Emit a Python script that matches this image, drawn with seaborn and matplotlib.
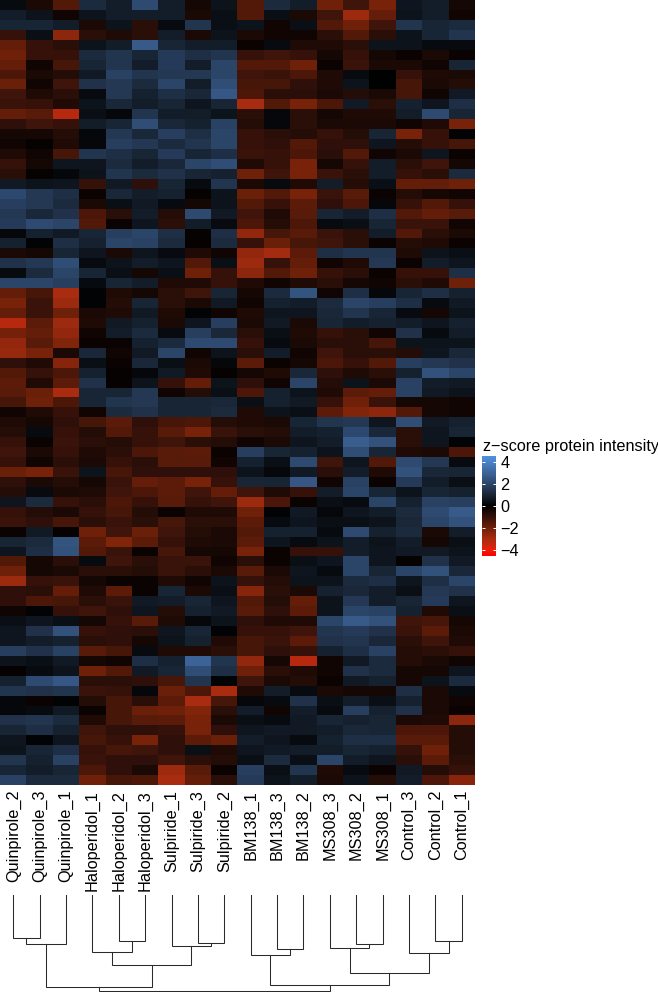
import matplotlib
matplotlib.use('Agg')
import matplotlib.pyplot as plt
from matplotlib.colors import LinearSegmentedColormap
import pandas as pd
import seaborn as sns

samples = ['Quinpirole_2', 'Quinpirole_3', 'Quinpirole_1', 'Haloperidol_1', 'Haloperidol_2', 'Haloperidol_3',
           'Sulpiride_1', 'Sulpiride_3', 'Sulpiride_2', 'BM138_1', 'BM138_3', 'BM138_2',
           'MS308_3', 'MS308_2', 'MS308_1', 'Control_3', 'Control_2', 'Control_1']

# z-scores, one line per band of proteins, top to bottom
zscores = [
    [.3, -.5, -1.5, 1.2, .8, 2.2, .8, -.4, .5, -1.5, 1.2, .8, -2, -1.2, -2.2, .6, .8, -.4],
    [.8, .5, -.3, .5, .8, .8, .8, -.5, .4, -1.5, .4, -.5, -1.2, -2.8, -1.8, .5, .8, -.3],
    [1, 1, .8, -.5, .5, -.8, .3, 1.5, .4, .5, -.3, .4, -1.5, -2, -1.2, 1.5, 1, 1.2],
    [-1, .4, -2.5, -.8, -.6, -.8, .8, -.5, .5, -.5, -.3, -.3, -.8, -1.5, -.8, .5, 1, 1.5],
    [-1.8, -1, -.8, .5, .8, 2.7, 1, .8, .8, -.2, .3, -.6, -.6, -.8, .5, .5, .3, .3],
    [-2, -1, -1, 1.2, 1.5, 1, 1.7, 1.3, 1.5, -1, -1.2, -1, -.4, -1, -.4, -.2, -.5, -.2],
    [-1.8, -.3, -1.3, 1, 1.5, .8, 1.7, .8, 2, -1.5, -1.5, -2, -.2, -1.1, -.5, -.5, -.3, 1],
    [-1.4, -.5, -.7, .7, 1.9, 1.5, 1.6, 1.6, 2, -1.2, -1.1, -1.4, -.6, .3, 0, -1, -.6, -.5],
    [-1.9, -.3, -1.2, 1.4, 1.6, 1.2, 2, .8, 2.3, -1.3, -1.3, -.9, -.6, .5, 0, -1.3, -.5, -.7],
    [-1.2, -.6, -.8, .3, 1.6, .9, 1.3, 1.1, 2.6, -1.4, -.8, -.8, -.5, -.7, -.5, -1.3, -.3, .7],
    [-1.1, -1, -.6, .5, 1.1, .8, 1, .6, 1, -3, -1.5, -2.2, -1.4, .7, -.8, .9, .6, 1.3],
    [-1.8, -1.6, -3.2, .4, .2, 1.5, .8, .8, .5, -.8, .2, -.8, -.4, -.6, -.6, .8, 2.2, 1],
    [-.9, -1.2, -1, .8, 1, 2.3, 1.1, .9, 1.9, -.7, .2, -.8, -.5, -.5, -.5, -.3, -.6, -2.2],
    [-.4, -.4, -.7, .2, 1.6, 1.1, 1.8, 1.3, 2, -1, -.8, -.7, -1, -.7, 1, -2.2, -1, .1],
    [-.3, -.1, -.6, .2, 1.8, 1.6, 1.2, 1.5, 2, -1, -.9, -1.5, -.9, -.9, .6, -.7, -1, -1.3],
    [-.6, -.3, -1.3, 1.5, 1.3, 1, 1.7, 1, 1.3, -1.1, -1, -1.4, -.8, -1.5, -.3, -.5, .6, -.2],
    [-1, -.4, .6, .6, 1.2, .8, 1.1, 2, 2.3, -.6, -1, -2.2, -.4, -1, .8, -.8, -1.2, -.4],
    [-.8, -.1, .2, .5, 1.5, 1.2, 1.4, 1, .9, -2, -1.2, -2.2, -1.1, -.8, .8, -1, -.8, 1.2],
    [.7, .5, .6, -1, .7, -.9, 1, .3, 1.5, -.5, .3, -.6, .8, -.7, .4, -1.8, -1.8, -2],
    [2.1, 1.6, 1.3, -.2, 1.1, .8, .9, -.1, .5, -1.9, -1.5, -2.2, -1.1, -1.6, -.2, -.7, -.4, -.3],
    [1.8, 1.6, 1.2, -.5, .4, .7, .3, -.4, .5, -1.5, -1, -1.7, -.9, -1.4, .2, -1, -1.5, -1],
    [1.6, 1.1, 1.4, -1.4, -.8, .8, -.7, 2.2, .7, -1.2, -.6, -1.6, 1, .8, 1.3, -1.5, -1.8, -1.6],
    [1.7, 2.2, 2, -1.5, -.2, .6, -.8, .8, .3, -1.4, -.7, -1.4, .3, .4, 1, -1.1, -1.1, -.3],
    [.2, .9, .7, 1, 1.8, 2, 1.3, -.1, 1.3, -2.6, -1.3, -1.6, -1.1, -.8, .8, -1.5, -.8, -.5],
    [.9, .1, 1.3, .9, 2, 1.9, 1.2, -.1, 1.2, -1, -1.9, -1.3, -1.2, -.8, -.2, -.7, -.6, -.2],
    [-.5, -.4, 1, .6, -.5, .6, .3, -.6, -.3, -2.6, -2.9, -1.7, 1.3, 1.5, 1.5, -.6, .5, .4],
    [1.4, 1.6, 2.3, .3, .5, .8, .6, -1.5, .4, -2.8, -1, -1.8, -.3, -.6, 1.6, -.2, .8, .6],
    [.3, 1.2, 2, 1, .4, -.4, .4, -2, -1, -2.5, -1.5, -2, -1, -.8, -.2, -1, -1, 1.3],
    [2, 2, 1.8, .3, 1, .8, -.6, -.6, -1, -.6, -.3, -.6, -.8, -.4, -.3, -.8, -.6, -2],
    [-1.8, -1.3, -3, .1, -.6, -.4, -.8, -1.2, 1, -.4, 1.2, 2.5, -.3, 1.3, .2, 1, 1.3, .9],
    [-2.2, -1.1, -2.8, .1, -.7, 1, -.8, -.5, .7, -.3, .9, .8, 1.2, 2, 1.8, 1.3, .3, .7],
    [-1.8, -1.1, -2, -.5, -.6, .7, -.6, .1, -.3, -.6, .6, .6, 1.1, 1.5, 1, .3, -.4, .5],
    [-3.2, -1.7, -2.8, -.6, .7, .9, -.5, .6, 1.8, -.5, .7, -.5, 1, .8, .9, .8, .6, .9],
    [-2.1, -1.8, -2.6, -.3, .8, 1.2, .3, 1.8, 1.1, -.8, .4, -.6, -1, -.8, -.3, 1.4, .3, .8],
    [-2.6, -1.6, -2.3, -.2, -.2, .9, 1.2, 2.2, 2.2, -1, .3, -.5, -.8, -.8, -1.3, .5, .5, .5],
    [-2.7, -2.2, -.5, 1.1, -.3, .7, 2, -.3, .5, -.8, .8, -.3, -1.2, -.8, -.8, -.7, .6, 1.1],
    [-.9, -.6, -2.4, .4, -.2, 1.1, .4, -.5, .2, -1.7, -.2, -.4, -1.4, -1, -1.5, 1.8, 1.6, 1.4],
    [-1.5, -1, -1.4, .9, -.1, .2, .7, -.6, -.1, -.4, -.6, 1.1, -.9, -.6, -.8, .9, 2.4, 2],
    [-1.7, -.6, -1.7, 1.4, -.1, .5, -1, -1.8, .5, -.9, -.3, 2, -.7, .5, -.5, 1.9, .8, .7],
    [-1.6, -1.9, -3, 1, 1, 1.6, -.3, -.7, .4, -1.4, .9, .5, -.6, -1.7, -1.8, 1.9, .7, .5],
    [-1.3, -2, -1.4, 1, 1.5, 1.6, 1, 1, 1.1, .4, .9, .7, -1, -2, -1.1, -.4, -.4, -.3],
    [-.3, -.6, -1, -.3, 1.2, 1.4, 1, 1, 1.2, -.6, .5, .4, -1.7, -2.3, -2.5, -1.5, -.4, -.3],
    [-.6, -.4, -.9, -1.3, -1.7, -.9, -1.3, -1.4, -.7, -.6, -.5, 1, 1.5, 1.6, .6, 2.3, .7, .9],
    [-.7, .3, -1, -.7, -1.5, -1, -1.6, -2.2, -1.1, -.8, -.7, .8, .9, 2.1, 1.1, -.8, .6, 1],
    [-1, -.2, -1.1, -.8, -.7, -1, -1.2, -.8, -.7, -.3, -.5, .6, .8, 2.8, 2.4, -.8, .6, .1],
    [-1.2, -.5, -1, -.6, -.8, -1.4, -1.6, -1.7, -.2, 1.8, 1, .9, .5, 2.3, 1, -.6, -.5, -1.4],
    [-1, -.3, -.8, -.5, -1, -.8, -1.6, -1.6, -.3, .9, .4, 2.2, -1.2, .6, -1.5, 2.2, 1.6, .3],
    [-1.9, -2.2, -1.1, .5, -1.3, -.9, -.9, -.9, -.9, .5, .2, .7, -.8, .8, -.6, 2.4, 1.1, 1],
    [-.9, -.5, -.7, -.4, -1.1, -1.8, -1.7, -2.2, -1, 1, 1, 2.6, -.3, 1.9, -.2, 1.7, .8, .4],
    [-.7, .3, -.5, -.6, -1.2, -1.4, -1.7, -1.2, -1.8, -1.2, -.6, -1, .8, 2, 1, .5, 1, .9],
    [.6, 1.2, -1, -.8, -1.4, -1, -1.6, -1, -1.2, -2.8, -1.4, -.2, .4, .3, 2, .9, 1.9, 1.8],
    [-1, -.7, -.5, -1, -1.3, -.7, -.2, -.6, -.6, -2, .1, .7, .2, .6, .8, 1.2, 2.2, 2.7],
    [-1.1, -.9, -1.3, -.8, -1.1, -.8, -1.3, -.8, -.8, -1.7, .3, .6, .4, .4, .5, 1.1, 2, 2.4],
    [-.2, .7, -.1, -2, -1.2, -1.9, -1.2, -.7, -.5, -1.5, .9, .9, .3, 2.2, .9, 1.2, -.5, .8],
    [1, 1.2, 2.5, -1.7, -2.3, -1.7, -1, -.6, -.5, -1.7, .6, .3, .5, .8, .5, .8, -.4, .4],
    [.6, 1.3, 2.4, -1.5, -1.1, -.2, -1.3, -.4, -.4, -2.2, -.2, -1, -1, .8, .6, .7, .7, .5],
    [-1.5, -.4, -.8, .3, -1.2, -.8, -1.1, -1.1, -.3, -.8, -.2, .4, .6, 2, .6, -.1, 1.4, .7],
    [-2, -.4, -.5, -.8, -.8, -.7, -1.1, -.8, -.5, -1.6, -.5, .6, .3, 2, 1, 2, 2.4, 1.1],
    [-2.8, -1, -1.1, -.4, -.2, -.2, -.6, -.3, .5, -1, -.7, .5, .5, 1.2, 1.3, .6, 1.3, 2],
    [-.9, -.8, -1.8, -.6, -1.7, -.2, 1, -.5, .4, -2.4, -.8, -.5, .9, 1.1, .8, .4, 1.6, 1.4],
    [-.9, -1.4, -1.3, -.8, -1.1, .7, .8, 1, .6, -1.5, -.7, -1.8, .5, 1.6, .8, 1, 1.7, .6],
    [-.3, .1, -1, -1.2, -.9, .6, -.7, .9, .7, -1.6, -.9, -1.7, .5, 2, 1.9, .9, -.6, .4],
    [.4, .6, .4, -.4, -1, -1.6, -.6, .2, .5, -.9, -.6, -.6, 2, 2.7, 2.4, -1.2, -1.3, -.4],
    [.6, 1.4, 2.4, -1, -.9, -.8, .6, 1, .1, -1, -1, -1.2, 1.5, 1.7, 1.4, -1.1, -1.7, -.5],
    [.6, .8, .9, -.8, -.9, -.4, .5, .9, -.6, -1.3, -1.1, -1.7, 1.4, 1.5, 1.1, -.8, -1.2, -.6],
    [1.8, 1.4, 1.9, -1.6, -1.3, .3, -.6, -.6, -.8, -1.3, -.9, -1, .9, 1.3, 1.9, -.7, -.8, -1],
    [.5, .4, .7, -.4, -.3, 1.3, .9, 3, 1.5, -2.6, -.4, -3.2, -.3, .7, 1.2, -.7, -.5, -.3],
    [-.1, .3, .5, -2, -1.5, .7, 1, 2.3, 1.3, -2, -.8, -.6, -.3, 1.4, 1.2, -.4, -.4, .6],
    [.9, 2.2, 2.6, -.8, -.8, -.9, -1.3, 1.5, .1, -1.2, -.5, -.7, -.2, .7, .9, -.4, .5, 1.2],
    [1.5, 1.4, 1.5, -1.1, -1, .2, -1.9, -1.4, -3, -.6, .8, .3, -.5, -.4, -.4, 1.3, -.5, .3],
    [.2, -.2, .1, -.7, -1.3, -.8, -1.7, -3, -1.3, .2, .3, 1.4, .4, .8, .4, .9, -.5, -.3],
    [.2, .3, .7, -.2, -1.3, -1.9, -2, -2.3, -.8, .8, -.3, .8, .3, 1.8, .9, 1.4, -.5, -.2],
    [1.4, 1.5, 1.2, -.6, -1.3, -1.6, -1.7, -2.2, -.5, .4, .3, .7, 1, .9, 1, -.5, -.6, -2.5],
    [1, 1.3, .9, -1.2, -.9, -.9, -1, -2.2, -.9, .6, .7, .7, .8, 1.1, 1, -1.4, -1.4, -.7],
    [.6, .1, .6, -1.3, -1, -2.2, -.9, -1.7, -1.9, .8, .6, .3, .9, 1.3, 1.3, -1.6, -1.6, -.7],
    [.5, 1, 1.3, -1, -1.3, -1.2, -.9, .4, -.6, .6, .7, .8, .8, 1, .9, -1, -2, -.7],
    [1.5, .9, 1.9, -1.1, -.9, -.9, -1.2, -.8, -.7, .4, 1.2, .4, 2, .8, .6, -.8, -1.7, -.8],
    [1, .8, 1, -1.4, -.9, -.5, -2.8, -1.6, -.2, 1.8, .4, 1.5, -.6, .3, -.2, .7, -.7, -1],
    [1.9, 1.2, 1.2, -2, -1.3, -1.4, -3, -1.8, -.8, 1.7, .5, .8, -.5, .5, -.7, .8, -1.4, -2.4],
]

# column tree: leaves are 0-17, each merge makes the next node id from 18 up
merge_left = [0, 18, 4, 3, 7, 6, 21, 19, 10, 9, 13, 12, 16, 15, 29, 27, 25]
merge_right = [1, 2, 5, 20, 8, 22, 23, 24, 11, 26, 14, 28, 17, 30, 31, 32, 33]
merge_height = [43, 49, 46, 57, 48, 51, 70, 92, 54, 60, 49, 53, 46, 58, 78, 90, 96]

cbar_ticks = [4, 2, 0, -2, -4]
cmap_values = [-4.55, -4, -3, -2, -1, 0, 1, 2, 3, 4, 4.55]
cmap_colors = ['#ff0000', '#e8200c', '#a82c10', '#6e2008', '#34110a', '#000000',
               '#182434', '#2b4468', '#3c6396', '#4a80c4', '#4c90e0']

W, H = 658, 992
cmap = LinearSegmentedColormap.from_list(
    'zscore', [((v - cmap_values[0]) / (cmap_values[-1] - cmap_values[0]), c) for v, c in zip(cmap_values, cmap_colors)])

plt.rcParams['font.family'] = ['Liberation Sans', 'DejaVu Sans']
fig = plt.figure(figsize=(W / 100, H / 100), dpi=100)


def px_axes(x0, y0, x1, y1):
    return fig.add_axes([x0 / W, 1 - y1 / H, (x1 - x0) / W, (y1 - y0) / H])


ax = px_axes(0, 0, 475, 785)
cax = px_axes(482, 456, 496, 556)
df = pd.DataFrame(zscores, columns=samples)
sns.heatmap(df, ax=ax, cmap=cmap, vmin=cmap_values[0], vmax=cmap_values[-1], yticklabels=False,
            cbar_ax=cax, cbar_kws={'ticks': cbar_ticks}, rasterized=True)
ax.tick_params(axis='x', length=0, pad=3.5, labelsize=11.7)
plt.setp(ax.get_xticklabels(), rotation=90, ha='center', va='top')

cax.tick_params(axis='y', direction='in', length=2.5, width=0.7, color='white', left=True, right=True,
                labelsize=11.7, pad=3)
cax.set_yticklabels([str(t).replace('-', '\u2212') for t in cbar_ticks])
ax.collections[0].colorbar.outline.set_visible(False)
fig.text(483 / W, 1 - 446 / H, 'z\u2212score protein intensity', fontsize=11.7, ha='left', va='center')

# column dendrogram hanging below the labels
dax = px_axes(0, 895, 475, 991)
dax.set_xlim(0, len(samples))
dax.set_ylim(96.5, 0)
dax.axis('off')
node_x = {i: i + 0.5 for i in range(len(samples))}
node_y = {i: 0 for i in range(len(samples))}
for n, (a, b, h) in enumerate(zip(merge_left, merge_right, merge_height)):
    dax.plot([node_x[a], node_x[a], node_x[b], node_x[b]], [node_y[a], h, h, node_y[b]],
             color='#2a2a2a', lw=0.75, solid_joinstyle='miter', clip_on=False)
    node_x[18 + n] = (node_x[a] + node_x[b]) / 2
    node_y[18 + n] = h

fig.savefig('out.png', dpi=100)
